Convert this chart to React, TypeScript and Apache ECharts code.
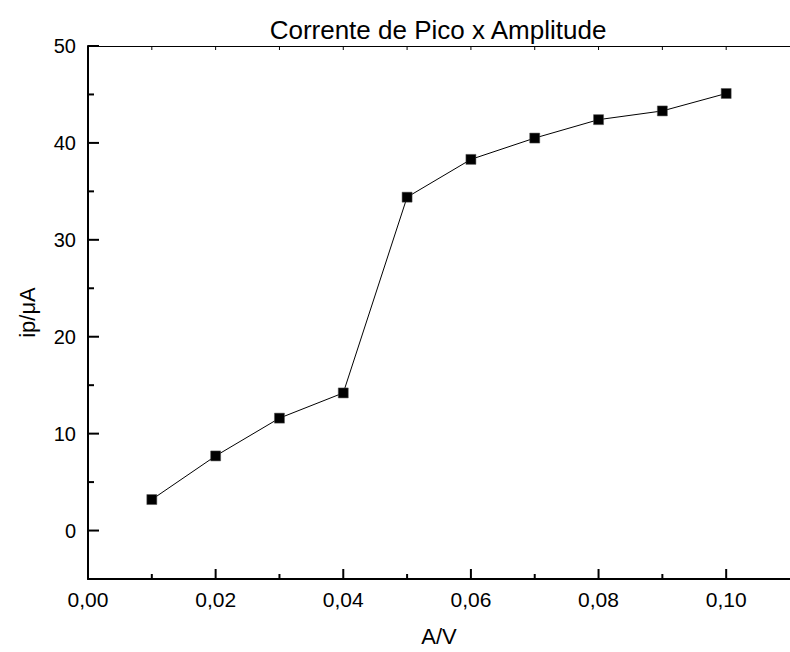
import React, { useEffect, useRef } from "react";
import * as echarts from "echarts";

const amplitudes = [0.01, 0.02, 0.03, 0.04, 0.05, 0.06, 0.07, 0.08, 0.09, 0.1];
const currents = [3.2, 7.7, 11.6, 14.2, 34.4, 38.3, 40.5, 42.4, 43.3, 45.1];
const xMajorTicks = [0, 0.02, 0.04, 0.06, 0.08, 0.1];
const xMinorTicks = [0.01, 0.03, 0.05, 0.07, 0.09];
const xTopTicks = [0.01, 0.02, 0.03, 0.04, 0.05, 0.06, 0.07, 0.08, 0.09, 0.1];
const yMajorTicks = [0, 10, 20, 30, 40, 50];
const yMinorTicks = [-5, 5, 15, 25, 35, 45];

const FONT = "'Liberation Sans', Arial, sans-serif";
const X_MIN = 0;
const X_MAX = 0.11;
const X_MAJOR_STEP = 0.02;
const Y_MIN = -5;
const Y_MAX = 50;

type Side = "bottom" | "top" | "left";

function tickSeries(values: number[], side: Side, length: number, width: number) {
  const data = values.map((v) =>
    side === "bottom" ? [v, Y_MIN] : side === "top" ? [v, Y_MAX] : [X_MIN, v]
  );
  return {
    type: "custom",
    xAxisIndex: 0,
    yAxisIndex: 0,
    clip: false,
    silent: true,
    z: 5,
    data,
    renderItem: (_params: any, api: any) => {
      const p = api.coord([api.value(0), api.value(1)]);
      let x2 = p[0];
      let y2 = p[1];
      if (side === "bottom") y2 = p[1] - length;
      else if (side === "top") y2 = p[1] + length;
      else x2 = p[0] + length;
      return {
        type: "line",
        shape: { x1: p[0], y1: p[1], x2, y2 },
        style: { stroke: "#000", lineWidth: width },
      };
    },
  };
}

export default function App() {
  const ref = useRef<HTMLDivElement>(null);
  useEffect(() => {
    if (!ref.current) return;
    const chart = echarts.init(ref.current, null, { renderer: "svg" });
    const fmt = (v: number) => v.toFixed(2).replace(".", ",");
    chart.setOption({
      animation: false,
      backgroundColor: "#ffffff",
      title: {
        text: "Corrente de Pico x Amplitude",
        left: 433,
        top: 12,
        textAlign: "center",
        textStyle: { fontFamily: FONT, fontSize: 26, fontWeight: "normal", color: "#000" },
      },
      grid: { left: 88, top: 46, width: 711, bottom: 73, containLabel: false },
      xAxis: [
        {
          type: "value",
          min: X_MIN,
          max: X_MAX,
          interval: X_MAJOR_STEP,
          position: "bottom",
          name: "A/V",
          nameLocation: "middle",
          nameGap: 46,
          nameTextStyle: { fontFamily: FONT, fontSize: 22, color: "#000" },
          axisLine: { show: true, onZero: false, lineStyle: { color: "#000", width: 2 } },
          axisTick: { show: false },
          axisLabel: {
            fontFamily: FONT,
            fontSize: 21,
            color: "#000",
            margin: 10,
            showMaxLabel: false,
            formatter: (v: number) => (xMajorTicks.some((t) => Math.abs(t - v) < 1e-9) ? fmt(v) : ""),
          },
          splitLine: { show: false },
        },
        {
          type: "value",
          min: X_MIN,
          max: X_MAX,
          position: "top",
          axisLine: { show: true, onZero: false, lineStyle: { color: "#000", width: 1 } },
          axisTick: { show: false },
          axisLabel: { show: false },
          splitLine: { show: false },
        },
      ],
      yAxis: [
        {
          type: "value",
          min: Y_MIN,
          max: Y_MAX,
          position: "left",
          name: "ip/μA",
          nameLocation: "middle",
          nameGap: 50,
          nameTextStyle: { fontFamily: FONT, fontSize: 22, color: "#000" },
          axisLine: { show: true, onZero: false, lineStyle: { color: "#000", width: 2 } },
          axisTick: { show: false },
          axisLabel: { fontFamily: FONT, fontSize: 20, color: "#000", margin: 12, customValues: yMajorTicks },
          splitLine: { show: false },
        },
      ],
      series: [
        {
          type: "line",
          data: amplitudes.map((a, i) => [a, currents[i]]),
          xAxisIndex: 0,
          yAxisIndex: 0,
          symbol: "rect",
          symbolSize: 10,
          showSymbol: true,
          z: 3,
          lineStyle: { color: "#000", width: 1 },
          itemStyle: { color: "#000", borderColor: "#555", borderWidth: 0.5 },
          emphasis: { disabled: true },
        },
        tickSeries(xMajorTicks, "bottom", 10, 2),
        tickSeries(xMinorTicks, "bottom", 5, 2),
        tickSeries(xTopTicks, "top", 4, 1),
        tickSeries(yMajorTicks, "left", 11, 2),
        tickSeries(yMinorTicks, "left", 6, 2),
      ],
    });
    return () => chart.dispose();
  }, []);
  return (
    <div
      ref={ref}
      style={{ position: "fixed", left: 0, top: 0, width: 790, height: 652 }}
    />
  );
}
